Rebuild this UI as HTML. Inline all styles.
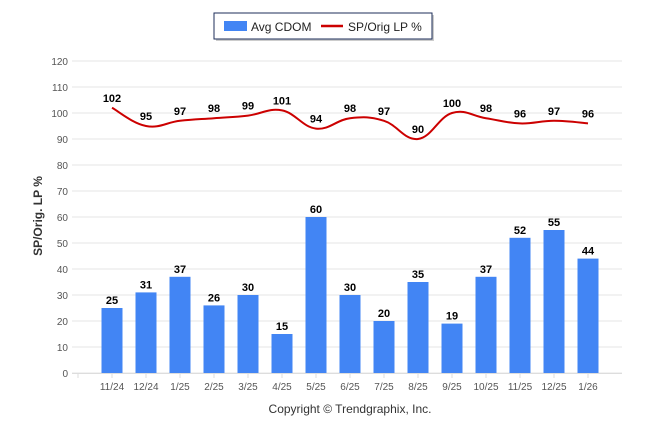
<!DOCTYPE html>
<html><head><meta charset="utf-8"><style>
body{margin:0;background:#fff;}
svg text{font-family:"Liberation Sans",sans-serif;}
</style></head><body>
<svg id="chart" width="646" height="434" xmlns="http://www.w3.org/2000/svg">
<g>
<rect x="216" y="15" width="218" height="26" fill="#ccc"/>
<rect x="214" y="13" width="218" height="26" fill="#fff" stroke="#1c2e5a" stroke-width="1"/>
<rect x="224" y="21" width="23" height="10" fill="#4285f4"/>
<text x="251" y="31" font-size="12" fill="#222">Avg CDOM</text>
<line x1="321" y1="26" x2="343" y2="26" stroke="#cc0000" stroke-width="2.5"/>
<text x="348" y="31" font-size="12" fill="#222">SP/Orig LP %</text>
</g>
<g id="grid"></g><g id="bars"></g><g id="line"></g><g id="labels"></g>
<text transform="translate(42,216) rotate(-90)" text-anchor="middle" font-size="12" font-weight="bold" fill="#333">SP/Orig. LP %</text>
<text x="350" y="413" text-anchor="middle" font-size="12" fill="#333">Copyright © Trendgraphix, Inc.</text>
</svg>
<script>
const categories=["11/24","12/24","1/25","2/25","3/25","4/25","5/25","6/25","7/25","8/25","9/25","10/25","11/25","12/25","1/26"];
const cdom=[25,31,37,26,30,15,60,30,20,35,19,37,52,55,44];
const spPct=[102,95,97,98,99,101,94,98,97,90,100,98,96,97,96];
const yTicks=[0,10,20,30,40,50,60,70,80,90,100,110,120];
const NS="http://www.w3.org/2000/svg";
const y=v=>373-v*2.6;
const x=i=>112+i*34;
function mk(t,a,p){const e=document.createElementNS(NS,t);for(const k in a)e.setAttribute(k,a[k]);p.appendChild(e);return e;}
const G=document.getElementById('grid'),B=document.getElementById('bars'),L=document.getElementById('line'),T=document.getElementById('labels');
yTicks.forEach(v=>{
 const l=mk('line',{x1:72,x2:622,y1:y(v),y2:y(v),stroke:'#e6e6e6','stroke-width':1},G);
 
 
 const t=mk('text',{x:68,y:y(v)+4,'text-anchor':'end','font-size':10,fill:'#555'},G);
 t.textContent=v;
 
 
});
const ax=mk('line',{x1:72,x2:622,y1:373.5,y2:373.5,stroke:'#ddd'},G);


for(let k=0;k<=categories.length;k++){mk('line',{x1:x(k)-34,x2:x(k)-34,y1:373,y2:378,stroke:'#ddd'},G);}
categories.forEach((c,i)=>{
 const t=mk('text',{x:x(i),y:390,'text-anchor':'middle','font-size':10,fill:'#555'},G);
 t.textContent=c;
 
 
 const b=mk('rect',{x:x(i)-10.5,y:y(cdom[i]),width:21,height:cdom[i]*2.6,fill:'#4285f4'},B);
 
 
 const bl=mk('text',{x:x(i),y:y(cdom[i])-4,'text-anchor':'middle','font-size':11,'font-weight':'bold',fill:'#000'},T);
 bl.textContent=cdom[i];
 
 
 const pl=mk('text',{x:x(i),y:y(spPct[i])-6,'text-anchor':'middle','font-size':11,'font-weight':'bold',fill:'#000'},T);
 pl.textContent=spPct[i];
 
 
});
const pts=spPct.map((v,i)=>[x(i),y(v)]);
let d='M'+pts[0][0]+','+pts[0][1];
for(let i=0;i<pts.length-1;i++){
 const p0=pts[i-1]||pts[i],p1=pts[i],p2=pts[i+1],p3=pts[i+2]||p2,s=0.2;
 d+=` C${p1[0]+(p2[0]-p0[0])*s},${p1[1]+(p2[1]-p0[1])*s} ${p2[0]-(p3[0]-p1[0])*s},${p2[1]-(p3[1]-p1[1])*s} ${p2[0]},${p2[1]}`;
}
const path=mk('path',{d:d,fill:'none',stroke:'#cc0000','stroke-width':2},L);


</script>
</body></html>
